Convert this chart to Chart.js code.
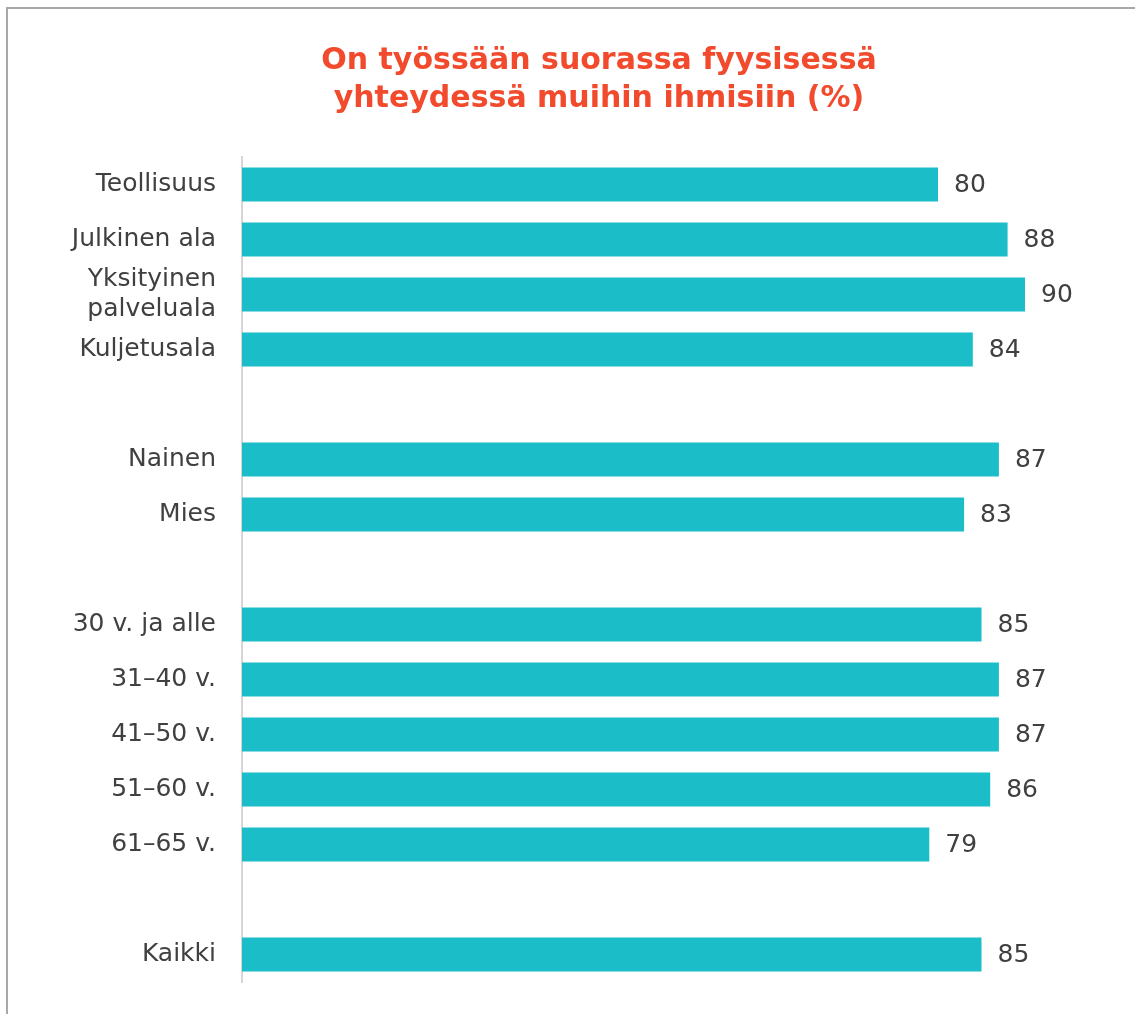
<!DOCTYPE html>
<html>
<head>
<meta charset="utf-8">
<script src="https://cdn.jsdelivr.net/npm/chart.js@4/dist/chart.umd.min.js"></script>
<style>
  html, body { margin: 0; padding: 0; background: #fff; overflow: hidden; }
  .frame {
    position: absolute; left: 6px; top: 7px; width: 1200px; height: 1100px;
    border-left: 2px solid #a8a8a8; border-top: 2px solid #a8a8a8;
  }
  .wrap { position: absolute; left: 0; top: 0; width: 1135px; height: 1014px; }
</style>
</head>
<body>
<div class="frame"></div>
<div class="wrap"><canvas id="chart"></canvas></div>
<script>
"use strict";

// ? DATA
// ! ========================== ! \\
const categories = [
  "Teollisuus", "Julkinen ala", ["Yksityinen", "palveluala"], "Kuljetusala", "",
  "Nainen", "Mies", "",
  "30 v. ja alle", "31–40 v.", "41–50 v.", "51–60 v.", "61–65 v.", "",
  "Kaikki"
];
const values = [80, 88, 90, 84, null, 87, 83, null, 85, 87, 87, 86, 79, null, 85];
const titleLines = ["On työssään suorassa fyysisessä", "yhteydessä muihin ihmisiin (%)"];

const barColor = "#1bbdc9";
const textColor = "#404040";
const titleColor = "#f24a2c";
const fontFamily = "'DejaVu Sans'";

// ? TITLE (centred over the plot, not the canvas)
// ! ========================== ! \\
const titleText = {
  id: "titleText",
  afterDraw: (chart) => {
    const { ctx } = chart;
    ctx.save();
    ctx.font = `bold 30px ${fontFamily}`;
    ctx.fillStyle = titleColor;
    ctx.textAlign = "center";
    ctx.textBaseline = "middle";
    titleLines.forEach((line, i) => {
      ctx.fillText(line, 599, 61 + i * 38);
    });
    ctx.restore();
  },
};

// ? VALUE LABELS
// ! ========================== ! \\
const valueLabels = {
  id: "valueLabels",
  afterDatasetsDraw: (chart) => {
    const { ctx } = chart;
    const meta = chart.getDatasetMeta(0);
    ctx.save();
    ctx.font = `25px ${fontFamily}`;
    ctx.fillStyle = textColor;
    ctx.textBaseline = "middle";
    ctx.textAlign = "left";
    meta.data.forEach((bar, i) => {
      if (values[i] === null) return;
      ctx.fillText(String(values[i]), bar.x + 16, bar.y + 1);
    });
    ctx.restore();
  },
};

const config = {
  type: "bar",
  data: {
    labels: categories,
    datasets: [
      {
        data: values,
        backgroundColor: barColor,
        borderWidth: 0,
        barPercentage: 0.62,
        categoryPercentage: 1,
      },
    ],
  },
  options: {
    indexAxis: "y",
    responsive: true,
    maintainAspectRatio: false,
    animation: false,
    layout: { padding: { left: 20, right: 23, top: 157, bottom: 32 } },
    plugins: {
      legend: { display: false },
      tooltip: { enabled: false },
      title: { display: false },
    },
    scales: {
      x: {
        display: false,
        min: 0,
        max: 100,
      },
      y: {
        afterFit: (scale) => {
          scale.width = 222;
        },
        grid: {
          display: true,
          drawOnChartArea: false,
          drawTicks: true,
          tickLength: 26,
          tickColor: "rgba(0,0,0,0)",
        },
        border: { display: true, color: "#d6d6d6", width: 2 },
        ticks: {
          autoSkip: false,
          color: textColor,
          padding: 0,
          font: { family: fontFamily, size: 25, lineHeight: 1.2 },
        },
      },
    },
  },
  plugins: [titleText, valueLabels],
};

const ctx = document.getElementById("chart").getContext("2d");
new Chart(ctx, config);
</script>
</body>
</html>
